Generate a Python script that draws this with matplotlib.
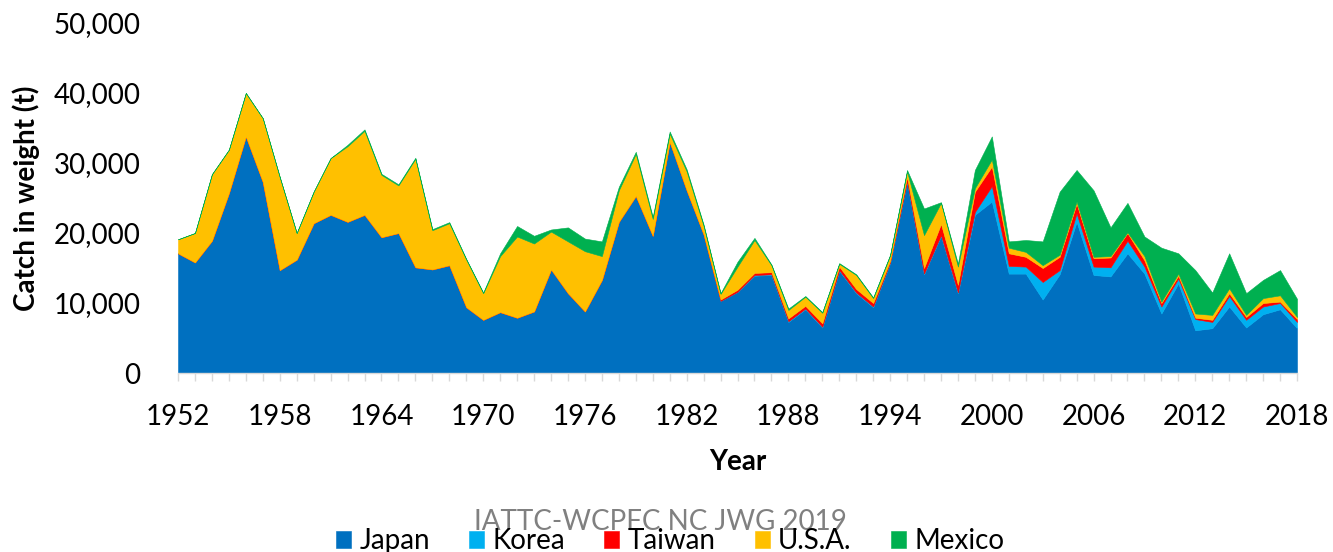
import matplotlib

matplotlib.use("Agg")
import matplotlib.pyplot as plt
import numpy as np
from matplotlib.ticker import FuncFormatter, MultipleLocator

years = np.arange(1952, 2019)
year_labels = years[::6]

# catch in thousand tonnes
japan = [
    17.1, 15.8, 18.9, 25.7, 33.8, 27.3, 14.7, 16.2, 21.4, 22.6,
    21.6, 22.6, 19.4, 20.0, 15.1, 14.8, 15.4, 9.4, 7.6, 8.7,
    7.9, 8.8, 14.8, 11.4, 8.8, 13.3, 21.6, 25.3, 19.6, 33.0,
    26.1, 19.8, 10.3, 11.6, 13.9, 14.0, 7.3, 9.1, 6.5, 14.6,
    11.4, 9.4, 15.7, 27.3, 14.1, 19.6, 11.4, 22.6, 24.5, 14.2,
    14.2, 10.5, 14.1, 21.6, 14.0, 13.8, 17.1, 14.2, 8.5, 12.8,
    6.1, 6.4, 9.5, 6.5, 8.4, 9.1, 6.4,
]
korea = [0.0] * 34 + [
    0.1, 0.1, 0.1, 0.1, 0.1, 0.1, 0.1, 0.1, 0.1, 0.1,
    0.1, 0.1, 0.1, 0.4, 2.2, 1.1, 1.0, 2.5, 0.6, 1.2,
    1.2, 1.3, 1.8, 1.0, 1.0, 0.7, 1.6, 0.9, 1.5, 1.1,
    1.1, 0.9, 0.9,
]
taiwan = [0.0] * 32 + [
    0.2, 0.3, 0.3, 0.3, 0.4, 0.4, 0.5, 0.5, 0.5, 0.5,
    0.2, 0.6, 0.8, 1.6, 1.1, 2.9, 2.8, 1.8, 1.4, 2.0,
    1.9, 1.4, 1.2, 1.4, 1.1, 0.9, 0.5, 0.4, 0.2, 0.3,
    0.4, 0.4, 0.5, 0.2, 0.4,
]
usa = [
    2.0, 4.2, 9.5, 6.2, 6.2, 9.1, 13.3, 3.8, 4.5, 8.1,
    10.8, 12.0, 8.9, 6.8, 15.5, 5.6, 6.0, 6.8, 3.8, 8.0,
    11.6, 9.7, 5.4, 7.4, 8.6, 3.4, 4.5, 6.0, 2.4, 1.2,
    2.7, 1.2, 0.8, 3.3, 4.7, 1.0, 1.2, 1.3, 1.5, 0.4,
    2.0, 0.7, 0.8, 0.8, 4.7, 3.0, 2.6, 0.5, 1.0, 0.8,
    0.7, 0.4, 0.3, 0.3, 0.2, 0.2, 0.1, 0.6, 0.2, 0.3,
    0.6, 0.7, 0.7, 0.3, 0.7, 0.9, 0.3,
]
mexico = [
    0.0, 0.0, 0.0, 0.0, 0.0, 0.0, 0.0, 0.0, 0.0, 0.0,
    0.2, 0.2, 0.15, 0.15, 0.15, 0.15, 0.15, 0.1, 0.1, 0.4,
    1.5, 1.1, 0.3, 2.0, 1.8, 2.1, 0.5, 0.3, 0.3, 0.3,
    0.3, 0.2, 0.1, 0.7, 0.3, 0.1, 0.2, 0.1, 0.1, 0.1,
    0.1, 0.1, 0.1, 0.2, 3.8, 0.1, 0.4, 2.6, 3.3, 0.9,
    1.7, 3.4, 9.0, 4.5, 9.5, 4.1, 4.2, 2.8, 7.7, 2.9,
    6.2, 3.2, 5.0, 3.1, 2.6, 3.6, 2.6,
]

countries = ["Japan", "Korea", "Taiwan", "U.S.A.", "Mexico"]
colors = ["#0070C0", "#00B0F0", "#FF0000", "#FFC000", "#00B050"]

plt.rcParams["font.family"] = ["Lato", "DejaVu Sans"]

fig = plt.figure(figsize=(13.33, 5.52), dpi=100)
ax = fig.add_axes([178 / 1333, 1 - 373 / 552, 1119 / 1333, 350 / 552])

series = np.array([japan, korea, taiwan, usa, mexico]) * 1000
bottom = np.zeros(len(years))
for values, name, color in zip(series, countries, colors):
    top = bottom + values
    ax.fill_between(years, bottom, top, color=color, linewidth=0.4,
                    edgecolor=color, label=name)
    bottom = top

ax.set_xlim(1952, 2018)
ax.set_ylim(0, 50000)
ax.set_xticks(year_labels)
ax.xaxis.set_minor_locator(MultipleLocator(1))
ax.yaxis.set_major_locator(MultipleLocator(10000))
ax.yaxis.set_major_formatter(FuncFormatter(lambda v, _: f"{int(v):,}"))

for side in ["top", "right", "left"]:
    ax.spines[side].set_visible(False)
ax.spines["bottom"].set_color("#D9D9D9")
ax.spines["bottom"].set_linewidth(1.0)
ax.tick_params(axis="x", which="both", length=6, width=1.0, color="#D9D9D9",
               labelsize=20, pad=16)
ax.tick_params(axis="y", length=0, labelsize=20, pad=27)

ax.set_xlabel("Year", fontsize=20, fontweight="bold")
ax.xaxis.set_label_coords(0.5, -0.217)
ax.set_ylabel("Catch in weight (t)", fontsize=20, fontweight="bold")
ax.yaxis.set_label_coords(-0.123, 0.5)

fig.text(660 / 1333, 1 - 522 / 552, "IATTC-WCPFC NC JWG 2019", fontsize=20,
         color="#808080", ha="center", va="center")

fig.legend(loc="center", bbox_to_anchor=(670 / 1333, 11 / 552), ncol=5,
           frameon=False, fontsize=20, handlelength=0.55, handleheight=0.55,
           handletextpad=0.3, columnspacing=1.4)

fig.savefig("out.png", dpi=100)
